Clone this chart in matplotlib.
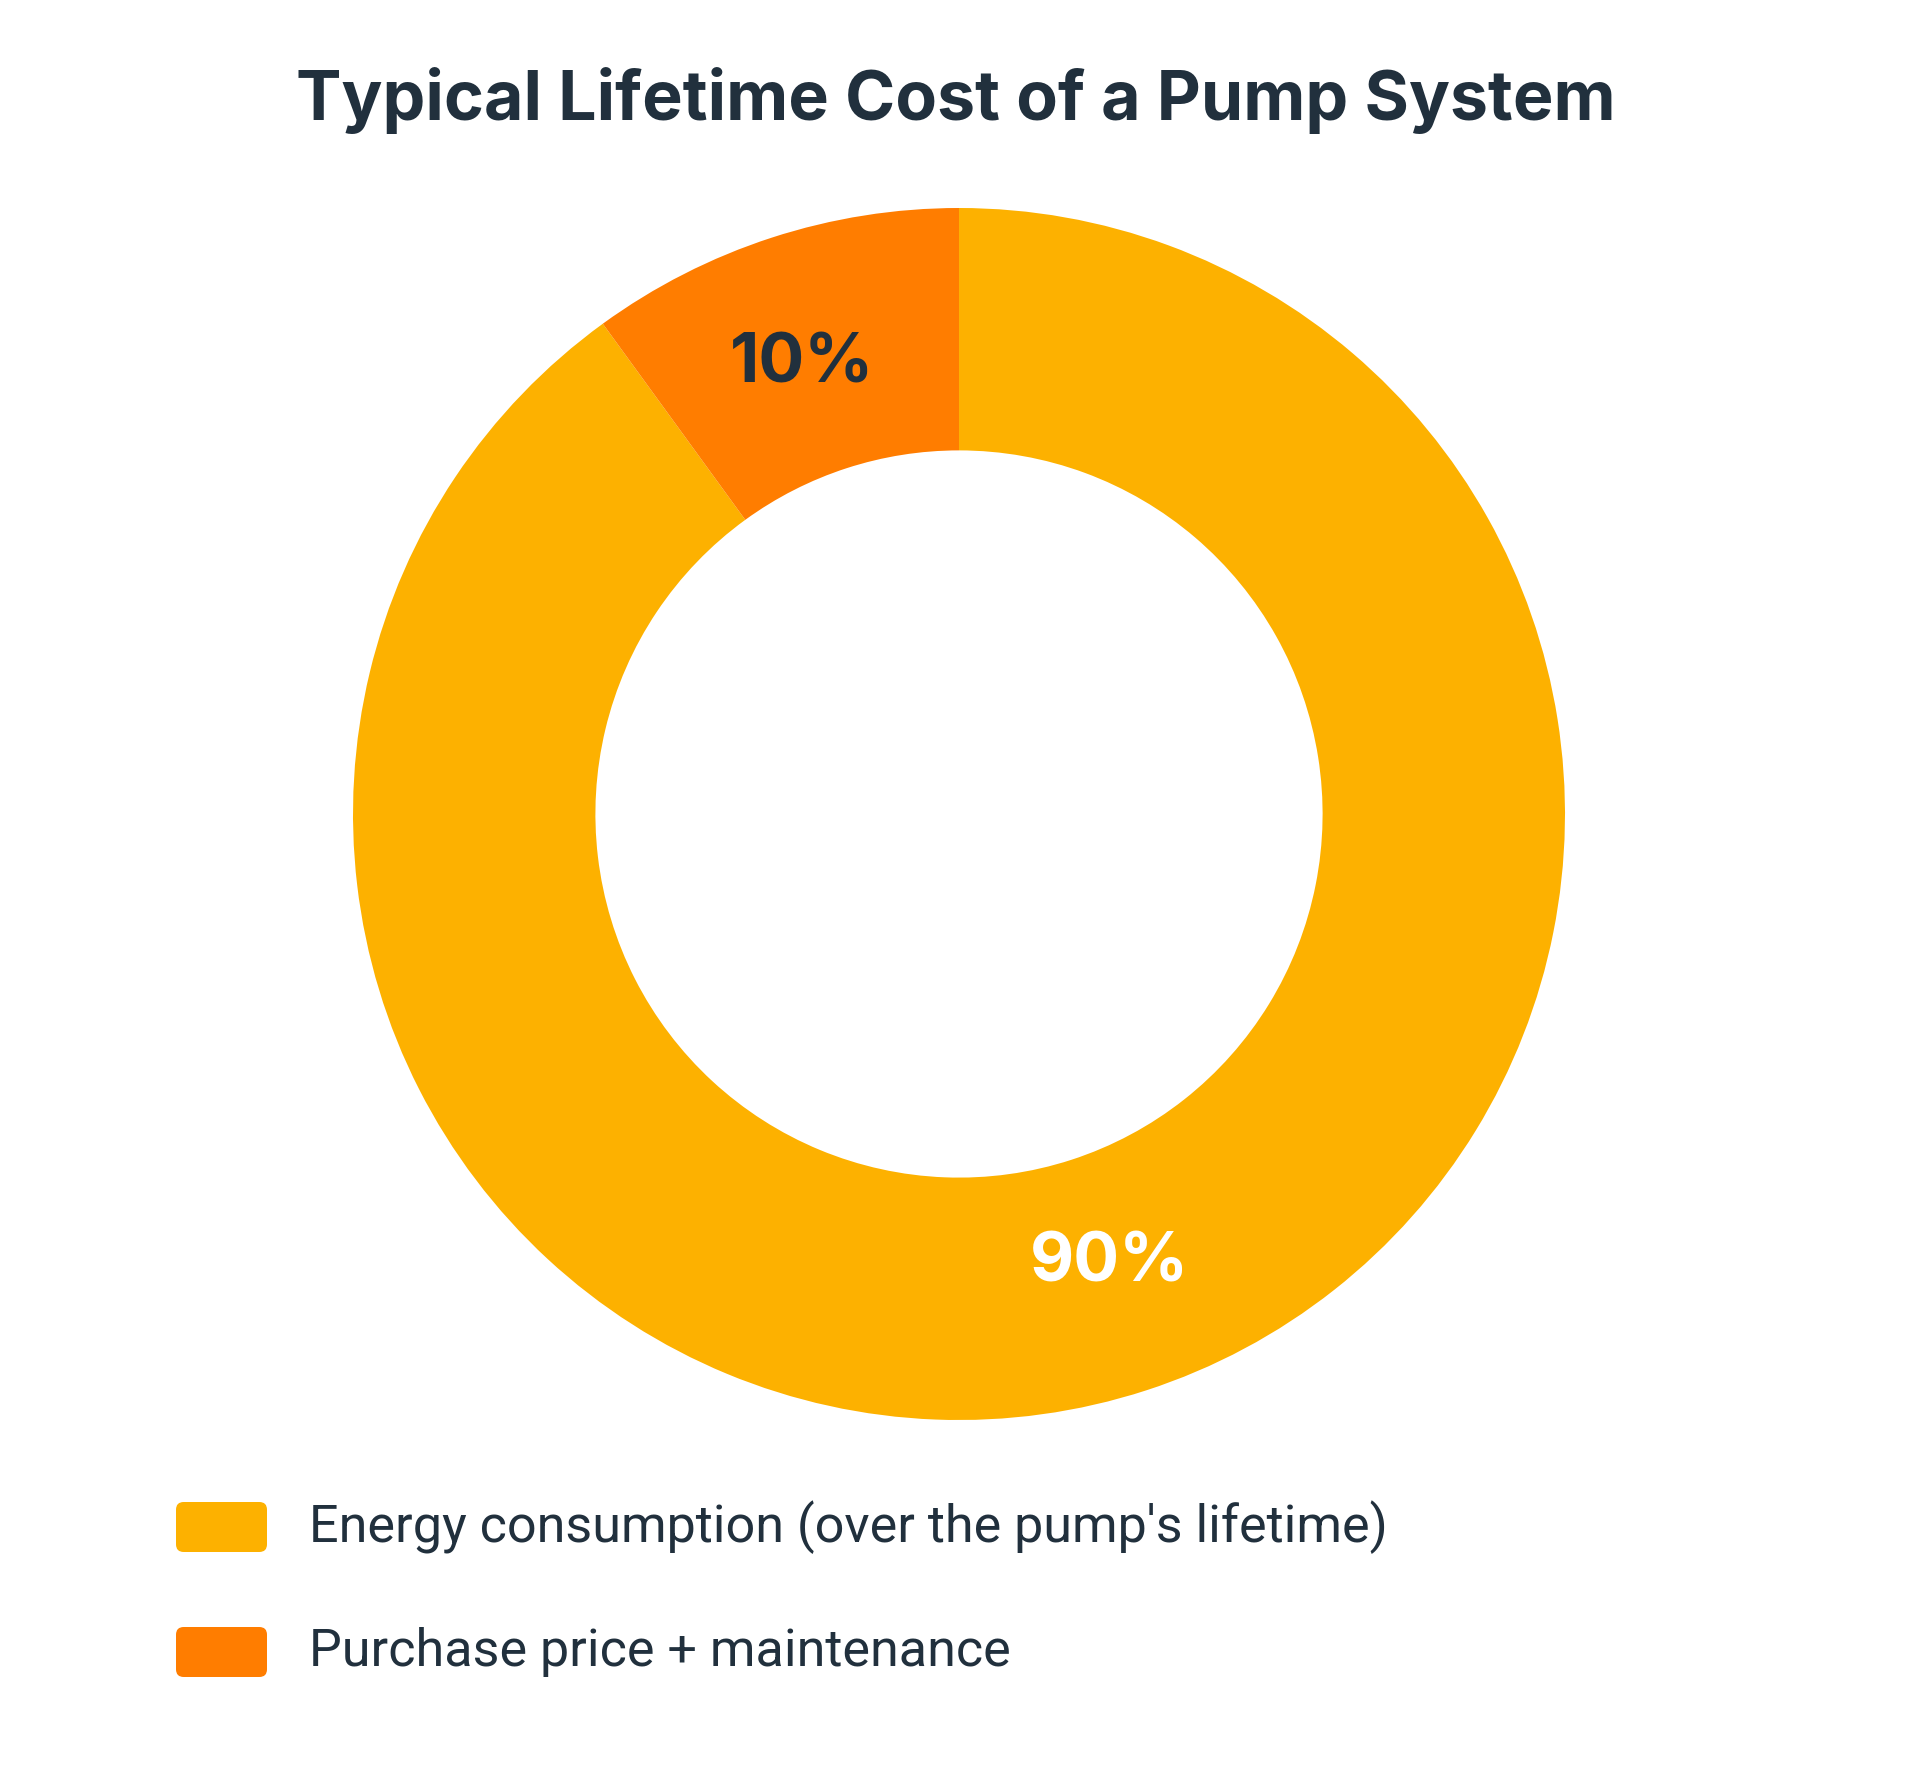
import matplotlib
matplotlib.use("Agg")
import matplotlib.pyplot as plt
from matplotlib.patches import FancyBboxPatch
import numpy as np

categories = ["Energy consumption (over the pump's lifetime)", "Purchase price + maintenance"]
values = [90, 10]
labels_pct = ["90%", "10%"]
colors = ["#FDB100", "#FF7D00"]
label_colors = ["white", "#21303D"]
title = "Typical Lifetime Cost of a Pump System"

W, H = 1917, 1792
fig = plt.figure(figsize=(W / 100, H / 100), dpi=100)
fig.patch.set_facecolor("white")
plt.rcParams['font.family'] = ['Inter', 'DejaVu Sans']

cx, cy, R = 959, 814, 606
ax = fig.add_axes([(cx - R) / W, (H - cy - R) / H, 2 * R / W, 2 * R / H])
wedges, _ = ax.pie(values, colors=colors, startangle=90, counterclock=False,
                   radius=1, wedgeprops=dict(width=0.4, linewidth=0))
ax.set_xlim(-1, 1)
ax.set_ylim(-1, 1)
ax.set_aspect('equal')
ax.axis('off')

label_nudge = [(3.5, 0), (-8, 0)]  # points
ang = 90
for v, lab, lc, nd in zip(values, labels_pct, label_colors, label_nudge):
    mid = ang - v / sum(values) * 360 / 2
    ang -= v / sum(values) * 360
    r = 0.78
    ax.annotate(lab, (r * np.cos(np.radians(mid)), r * np.sin(np.radians(mid))),
                xytext=nd, textcoords='offset points',
                ha='center', va='center', fontsize=49, fontweight='bold', color=lc)

fig.text(956 / W, 1 - 101 / H, title, ha='center', va='center',
         fontsize=49, fontweight='bold', color="#21303D")

rows_y = [1527, 1652]
for yy, cat, col in zip(rows_y, categories, colors):
    box = FancyBboxPatch((176 / W, (H - yy - 25) / H), 91 / W, 50 / H,
                         boxstyle="round,pad=0,rounding_size=0.004",
                         transform=fig.transFigure, facecolor=col,
                         edgecolor='none', mutation_aspect=W / H)
    fig.patches.append(box)
    fig.text(309 / W, 1 - yy / H, cat, ha='left', va='center',
             fontsize=37.5, color="#21303D", family=['Roboto', 'DejaVu Sans'])

fig.savefig("out.png", dpi=100, facecolor="white")
